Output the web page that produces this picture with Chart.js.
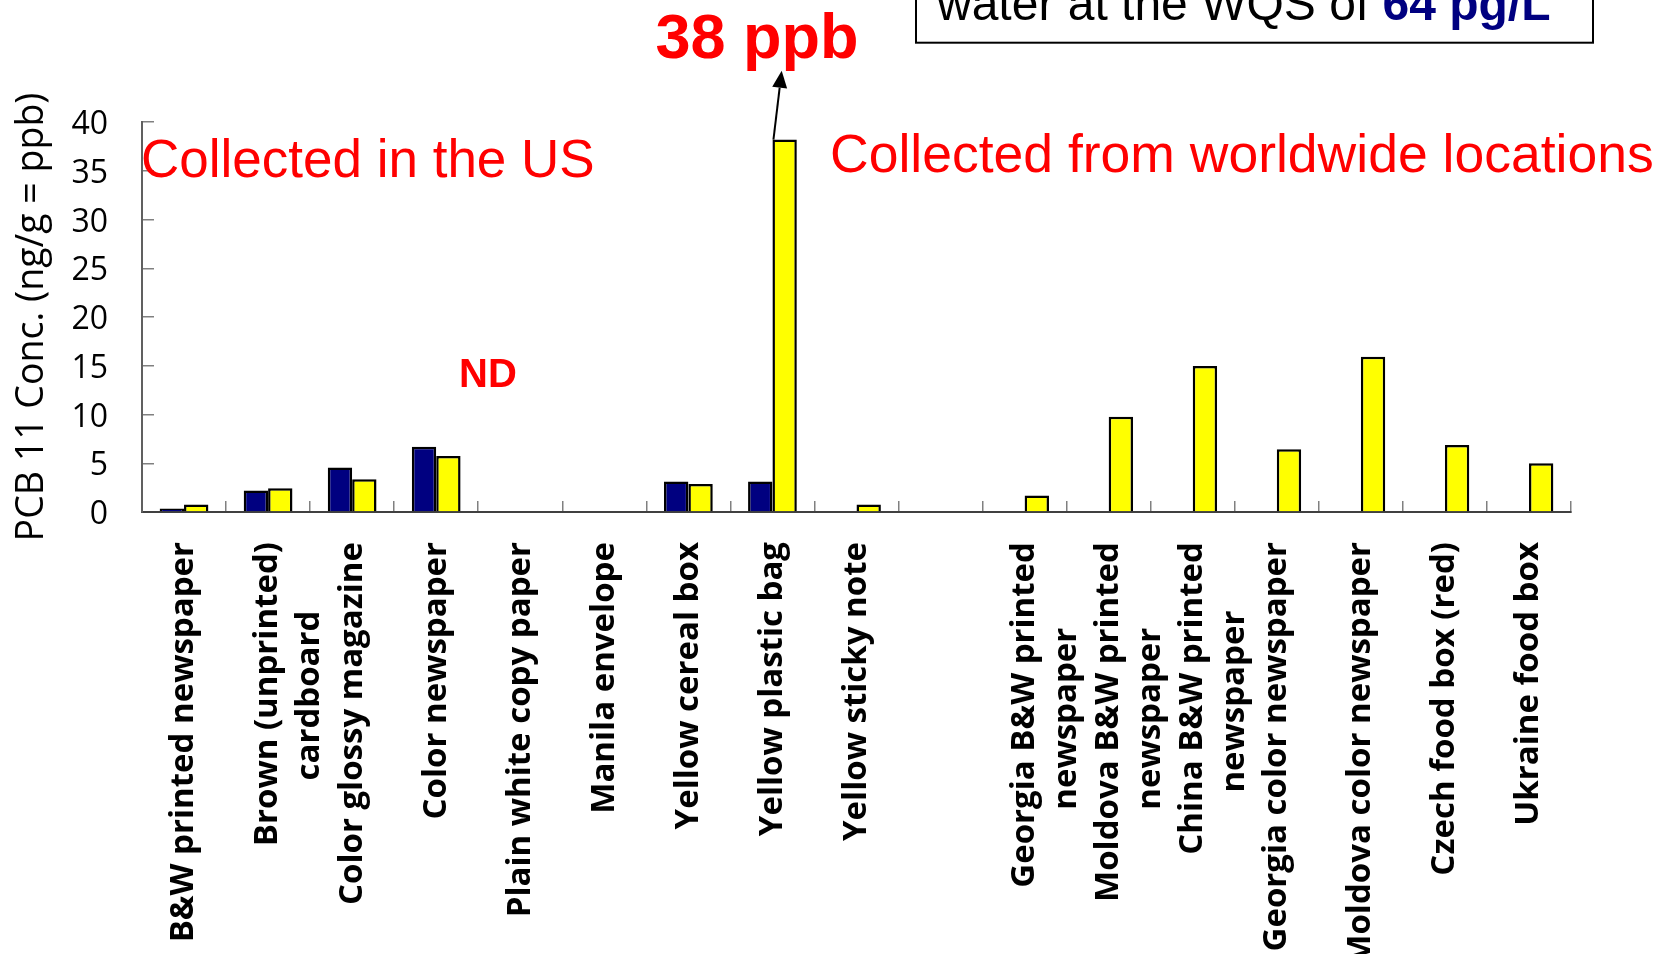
<!DOCTYPE html>
<html lang="en">
<head>
<meta charset="UTF-8">
<title>PCB 11 in paper products</title>
<script src="https://cdn.jsdelivr.net/npm/chart.js"></script>
<style>
    html, body { margin: 0; padding: 0; background: #fff; }
    #wrap { width: 1670px; height: 954px; position: relative; }
</style>
</head>
<body>
<div id="wrap"><canvas id="pcbChart"></canvas></div>
<script>
    // sample names (multi-line where the original breaks them)
    const categories = [
        "B&W printed newspaper",
        ["Brown (unprinted)", "cardboard"],
        "Color glossy magazine",
        "Color newspaper",
        "Plain white copy paper",
        "Manila envelope",
        "Yellow cereal box",
        "Yellow plastic bag",
        "Yellow sticky note",
        "",
        ["Georgia B&W printed", "newspaper"],
        ["Moldova B&W printed", "newspaper"],
        ["China B&W printed", "newspaper"],
        "Georgia color newspaper",
        "Moldova color newspaper",
        "Czech food box (red)",
        "Ukraine food box"
    ];

    // PCB 11 conc. in ng/g (null = no bar)
    const navySeries = [0.35, 2.2, 4.56, 6.68, null, null, 3.12, 3.12, null, null,
                        null, null, null, null, null, null, null];
    const yellowSeries = [0.76, 2.43, 3.36, 5.75, null, null, 2.88, 38.2, 0.76, null,
                          1.68, 9.76, 14.97, 6.44, 15.92, 6.88, 5.0];

    const yTickValues = [0, 5, 10, 15, 20, 25, 30, 35, 40];

    const tickFont = { family: "'Open Sans', sans-serif", size: 33, weight: 'bold', lineHeight: 1.26 };

    // pad the shorter line with spaces so both lines sit centred on each other
    const mctx = document.createElement('canvas').getContext('2d');
    mctx.font = "bold 33px 'Open Sans', sans-serif";
    function centerLines(label) {
        if (!Array.isArray(label)) return label;
        const widths = label.map(l => mctx.measureText(l).width);
        const maxW = Math.max(...widths);
        const spaceW = mctx.measureText(' ').width;
        return label.map((l, i) => l + ' '.repeat(Math.round((maxW - widths[i]) / 2 / spaceW)));
    }

    const notes = {
        id: 'notes',
        afterDraw(chart) {
            const ctx = chart.ctx;
            const arial = "'Liberation Sans', Arial, sans-serif";
            ctx.save();
            ctx.textBaseline = 'alphabetic';
            ctx.textAlign = 'left';

            // box at the top right (only its last line is in view)
            ctx.strokeStyle = '#000';
            ctx.lineWidth = 2;
            ctx.strokeRect(916, -10, 677, 52.7);
            ctx.font = '48px ' + arial;
            ctx.fillStyle = '#000';
            const part1 = 'water at the WQS of ';
            ctx.fillText(part1, 937, 20);
            const w1 = ctx.measureText(part1).width;
            ctx.font = 'bold 48px ' + arial;
            ctx.fillStyle = '#000080';
            ctx.fillText('64 pg/L', 937 + w1, 20);

            // red texts
            ctx.fillStyle = '#ff0000';
            ctx.font = '53px ' + arial;
            ctx.fillText('Collected in the US', 141, 177);
            ctx.font = '53.5px ' + arial;
            ctx.fillText('Collected from worldwide locations', 830, 172);
            ctx.font = 'bold 40px ' + arial;
            ctx.fillText('ND', 459, 387);
            ctx.font = 'bold 63px ' + arial;
            ctx.textAlign = 'center';
            ctx.fillText('38 ppb', 757, 58);

            // arrow from the top of the plastic bag bar
            const bar = chart.getDatasetMeta(1).data[7];
            const sx = bar.x - bar.width / 2 + 1, sy = bar.y;
            const tx = 781.7, ty = 70.7;
            const ang = Math.atan2(ty - sy, tx - sx);
            const headLen = 17, headHalf = 7.5;
            const bx = tx - headLen * Math.cos(ang), by = ty - headLen * Math.sin(ang);
            ctx.strokeStyle = '#000';
            ctx.lineWidth = 2;
            ctx.beginPath();
            ctx.moveTo(sx, sy);
            ctx.lineTo(bx, by);
            ctx.stroke();
            ctx.fillStyle = '#000';
            ctx.beginPath();
            ctx.moveTo(tx, ty);
            ctx.lineTo(bx + headHalf * Math.sin(ang), by - headHalf * Math.cos(ang));
            ctx.lineTo(bx - headHalf * Math.sin(ang), by + headHalf * Math.cos(ang));
            ctx.closePath();
            ctx.fill();
            ctx.restore();
        }
    };

    const ctx = document.getElementById('pcbChart').getContext('2d');
    new Chart(ctx, {
        type: 'bar',
        data: {
            labels: categories.map(centerLines),
            datasets: [{
                label: 'Series 1',
                data: navySeries,
                backgroundColor: '#000080',
                borderColor: '#000',
                borderWidth: 2.5,
                categoryPercentage: 0.58,
                barPercentage: 1.0
            }, {
                label: 'Series 2',
                data: yellowSeries,
                backgroundColor: '#ffff00',
                borderColor: '#000',
                borderWidth: 2.5,
                categoryPercentage: 0.58,
                barPercentage: 1.0
            }]
        },
        options: {
            responsive: true,
            maintainAspectRatio: false,
            animation: false,
            layout: { padding: { top: 122, right: 99, left: 0, bottom: 0 } },
            plugins: {
                legend: { display: false },
                tooltip: { enabled: false }
            },
            scales: {
                x: {
                    grid: { drawOnChartArea: false, offset: true, tickLength: -11, color: '#808080', lineWidth: 1.5 },
                    border: { color: '#404040', width: 2 },
                    ticks: {
                        autoSkip: false,
                        minRotation: 90,
                        maxRotation: 90,
                        padding: 41,
                        color: '#000',
                        font: tickFont
                    },
                    afterFit(scale) { scale.height = 442; }
                },
                y: {
                    min: 0,
                    max: 40,
                    afterBuildTicks(axis) { axis.ticks = yTickValues.map(v => ({ value: v })); },
                    grid: { drawOnChartArea: false, tickLength: -12, color: '#808080', lineWidth: 1.5 },
                    border: { color: '#606060', width: 2 },
                    ticks: {
                        padding: 46,
                        labelOffset: 3,
                        color: '#000',
                        font: { family: "'Open Sans', sans-serif", size: 32 }
                    },
                    title: {
                        display: true,
                        text: 'PCB 11 Conc. (ng/g = ppb)',
                        color: '#000',
                        font: { family: "'Open Sans', sans-serif", size: 37.5 },
                        padding: { top: 10, bottom: 0 }
                    },
                    afterFit(scale) { scale.width = 142; }
                }
            }
        },
        plugins: [notes]
    });
</script>
</body>
</html>
